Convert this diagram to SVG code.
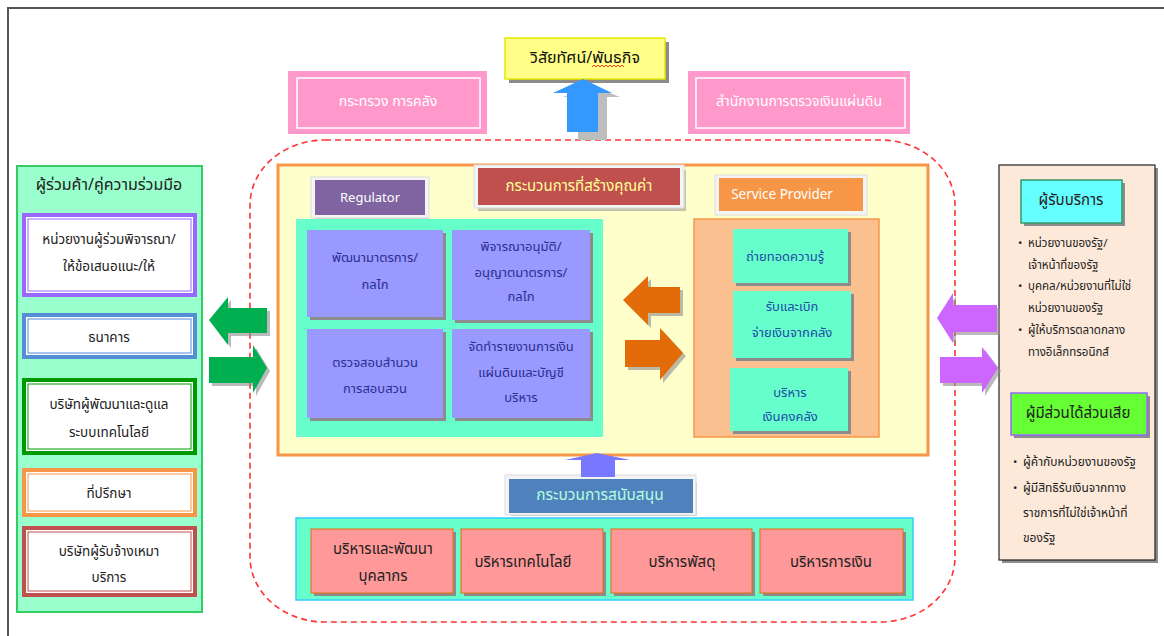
<svg xmlns="http://www.w3.org/2000/svg" width="1164" height="636" viewBox="0 0 1164 636">
  <defs>
    <style>
      text { font-family: "Noto Sans Thai", "Noto Sans", "DejaVu Sans", sans-serif; text-anchor: middle; dominant-baseline: middle; }
      .t15 { font-size: 15px; }
      .t14 { font-size: 14px; }
      .t13 { font-size: 13px; }
      .t12 { font-size: 12px; }
      .part { font-size: 13.5px; fill: #222; }
      .dark { fill: #222; }
      .navy { fill: #2b2f8f; }
      .blue { fill: #1f4aa8; }
      .shadow { fill: #8c8c8c; }
      .frame { fill: #f4f4f4; stroke: #dcdcdc; stroke-width: 1; }
      .lav { fill: #9999ff; }
      .aqua { fill: #66ffcc; }
      .rose { fill: #ff9999; stroke: #e46c0a; stroke-width: 1; }
      .pink { fill: #ff99cc; }
      .bul { text-anchor: start; font-size: 11.5px; fill: #222; }
    </style>
  </defs>

  <!-- page frame -->
  <rect x="0" y="0" width="1164" height="636" fill="#ffffff"/>
  <path d="M8,660 V8 H1180" fill="none" stroke="#555" stroke-width="2"/>

  <!-- dashed organisation boundary -->
  <rect x="250" y="140" width="705" height="482" rx="75" ry="65" fill="none" stroke="#ff3333" stroke-width="1.6" stroke-dasharray="6,4"/>

  <!-- vision / mission -->
  <g id="vision">
    <rect x="509" y="42" width="160" height="41" fill="#8c8c8c"/>
    <rect x="505" y="38" width="160" height="41" fill="#ffff88" stroke="#e8e800" stroke-width="1.5"/>
    <text x="585" y="59" style="font-size:16px" fill="#111">วิสัยทัศน์/พันธกิจ</text>
    <path d="M592,67 l2,-2 2,2 2,-2 2,2 2,-2 2,2 2,-2 2,2 2,-2 2,2 2,-2 2,2 2,-2 2,2 2,-2 2,2" fill="none" stroke="#ff2222" stroke-width="0.9"/>
  </g>

  <!-- ministry of finance -->
  <g id="mof">
    <rect x="288" y="71" width="199" height="63" class="pink"/>
    <rect x="297" y="78" width="183" height="50" fill="none" stroke="#ffffff" stroke-width="1.5"/>
    <text x="388" y="102" class="t14" fill="#ffffff">กระทรวง การคลัง</text>
  </g>

  <!-- state audit office -->
  <g id="sao">
    <rect x="688" y="71" width="222" height="63" class="pink"/>
    <rect x="696" y="78" width="209" height="50" fill="none" stroke="#ffffff" stroke-width="1.5"/>
    <text x="799" y="102" class="t14" fill="#ffffff">สำนักงานการตรวจเงินแผ่นดิน</text>
  </g>

  <!-- value creation process -->
  <g id="value-chain">
    <rect x="278" y="165" width="650" height="290" fill="#ffffcc" stroke="#f79646" stroke-width="3"/>
  </g>

  <g id="value-header">
    <rect x="478" y="170" width="208" height="41" class="shadow" opacity="0.5"/>
    <rect x="474" y="165" width="210" height="43" class="frame"/>
    <rect x="478" y="168" width="202" height="37" fill="#c0504d"/>
    <text x="579" y="187" class="t15" fill="#ffff99">กระบวนการที่สร้างคุณค่า</text>
  </g>

  <g id="regulator">
    <rect x="315" y="184" width="114" height="36" class="shadow" opacity="0.4"/>
    <rect x="311" y="177" width="118" height="41" class="frame"/>
    <rect x="315" y="180" width="110" height="35" fill="#8064a2"/>
    <text x="370" y="198" class="t13" fill="#ffffff">Regulator</text>
  </g>

  <g id="regulator-panel">
    <rect x="296" y="219" width="307" height="218" class="aqua"/>
  </g>

  <g id="reg-1">
    <rect x="310" y="233" width="136" height="87" class="shadow"/>
    <rect x="307" y="230" width="136" height="87" class="lav"/>
    <text x="375" y="258" class="t13 navy">พัฒนามาตรการ/</text>
    <text x="375" y="285" class="t13 navy">กลไก</text>
  </g>
  <g id="reg-2">
    <rect x="455" y="233" width="138" height="90" class="shadow"/>
    <rect x="452" y="230" width="138" height="90" class="lav"/>
    <text x="521" y="247" class="t13 navy">พิจารณาอนุมัติ/</text>
    <text x="521" y="273" class="t13 navy">อนุญาตมาตรการ/</text>
    <text x="521" y="297" class="t13 navy">กลไก</text>
  </g>
  <g id="reg-3">
    <rect x="310" y="332" width="136" height="89" class="shadow"/>
    <rect x="307" y="329" width="136" height="89" class="lav"/>
    <text x="375" y="363" class="t13 navy">ตรวจสอบสำนวน</text>
    <text x="375" y="389" class="t13 navy">การสอบสวน</text>
  </g>
  <g id="reg-4">
    <rect x="455" y="332" width="138" height="89" class="shadow"/>
    <rect x="452" y="329" width="138" height="89" class="lav"/>
    <text x="521" y="347" class="t13 navy">จัดทำรายงานการเงิน</text>
    <text x="521" y="373" class="t13 navy">แผ่นดินและบัญชี</text>
    <text x="521" y="398" class="t13 navy">บริหาร</text>
  </g>

  <g id="service-provider">
    <rect x="719" y="182" width="148" height="33" class="shadow" opacity="0.4"/>
    <rect x="715" y="175" width="152" height="40" class="frame"/>
    <rect x="719" y="178" width="144" height="33" fill="#f79646"/>
    <text x="782" y="195" style="font-size:13.5px" fill="#ffffff">Service Provider</text>
  </g>

  <g id="service-panel">
    <rect x="694" y="219" width="185" height="218" fill="#fac090" stroke="#f79646" stroke-width="1.5"/>
  </g>

  <g id="svc-1">
    <rect x="736" y="232" width="115" height="54" class="shadow"/>
    <rect x="733" y="229" width="115" height="54" class="aqua"/>
    <text x="785" y="257" class="t13 blue">ถ่ายทอดความรู้</text>
  </g>
  <g id="svc-2">
    <rect x="736" y="294" width="118" height="67" class="shadow"/>
    <rect x="733" y="291" width="118" height="67" class="aqua"/>
    <text x="792" y="307" class="t13 blue">รับและเบิก</text>
    <text x="792" y="333" class="t13 blue">จ่ายเงินจากคลัง</text>
  </g>
  <g id="svc-3">
    <rect x="733" y="371" width="118" height="63" class="shadow"/>
    <rect x="730" y="368" width="118" height="63" class="aqua"/>
    <text x="790" y="393" class="t13 blue">บริหาร</text>
    <text x="790" y="417" class="t13 blue">เงินคงคลัง</text>
  </g>

  <!-- support process -->
  <g id="support-header">
    <rect x="511" y="482" width="186" height="34" class="shadow" opacity="0.4"/>
    <rect x="505" y="475" width="191" height="40" class="frame"/>
    <rect x="509" y="479" width="184" height="34" fill="#4f81bd"/>
    <text x="600" y="496" style="font-size:15.5px" fill="#b3ffdd">กระบวนการสนับสนุน</text>
  </g>

  <g id="support-panel">
    <rect x="296" y="518" width="617" height="82" class="aqua" stroke="#33ccff" stroke-width="1.5"/>
  </g>
  <g id="sup-1">
    <rect x="314" y="532" width="142" height="64" class="shadow"/>
    <rect x="311" y="529" width="142" height="64" class="rose"/>
    <text x="383" y="550" class="t15 dark">บริหารและพัฒนา</text>
    <text x="383" y="577" class="t15 dark">บุคลากร</text>
  </g>
  <g id="sup-2">
    <rect x="464" y="532" width="142" height="64" class="shadow"/>
    <rect x="461" y="529" width="142" height="64" class="rose"/>
    <text x="523" y="563" class="t15 dark">บริหารเทคโนโลยี</text>
  </g>
  <g id="sup-3">
    <rect x="614" y="532" width="141" height="64" class="shadow"/>
    <rect x="611" y="529" width="141" height="64" class="rose"/>
    <text x="682" y="563" class="t15 dark">บริหารพัสดุ</text>
  </g>
  <g id="sup-4">
    <rect x="763" y="532" width="143" height="64" class="shadow"/>
    <rect x="760" y="529" width="143" height="64" class="rose"/>
    <text x="831" y="563" class="t15 dark">บริหารการเงิน</text>
  </g>

  <!-- partners -->
  <g id="partners">
    <rect x="17" y="166" width="185" height="446" fill="#99ffcc" stroke="#33cc66" stroke-width="2"/>
    <text x="109" y="186" style="font-size:16px" class="dark">ผู้ร่วมค้า/คู่ความร่วมมือ</text>
  </g>
  <g id="partner-1">
    <rect x="24" y="215" width="171" height="80" fill="#ffffff" stroke="#9966ff" stroke-width="4"/>
    <rect x="28" y="219" width="163" height="72" fill="none" stroke="#9966ff" stroke-width="1"/>
    <text x="109" y="240" class="part">หน่วยงานผู้ร่วมพิจารณา/</text>
    <text x="109" y="267" class="part">ให้ข้อเสนอแนะ/ให้</text>
  </g>
  <g id="partner-2">
    <rect x="24" y="315" width="171" height="42" fill="#ffffff" stroke="#558ed5" stroke-width="4"/>
    <rect x="28" y="319" width="163" height="34" fill="none" stroke="#558ed5" stroke-width="1"/>
    <text x="109" y="338" class="part">ธนาคาร</text>
  </g>
  <g id="partner-3">
    <rect x="24" y="380" width="171" height="73" fill="#ffffff" stroke="#009900" stroke-width="4"/>
    <rect x="28" y="384" width="163" height="65" fill="none" stroke="#009900" stroke-width="1"/>
    <text x="109" y="405" class="part">บริษัทผู้พัฒนาและดูแล</text>
    <text x="109" y="433" class="part">ระบบเทคโนโลยี</text>
  </g>
  <g id="partner-4">
    <rect x="24" y="470" width="171" height="45" fill="#ffffff" stroke="#f79646" stroke-width="4"/>
    <rect x="28" y="474" width="163" height="37" fill="none" stroke="#f79646" stroke-width="1"/>
    <text x="109" y="494" class="part">ที่ปรึกษา</text>
  </g>
  <g id="partner-5">
    <rect x="24" y="528" width="171" height="67" fill="#ffffff" stroke="#c0504d" stroke-width="4"/>
    <rect x="28" y="532" width="163" height="59" fill="none" stroke="#c0504d" stroke-width="1"/>
    <text x="109" y="552" class="part">บริษัทผู้รับจ้างเหมา</text>
    <text x="109" y="578" class="part">บริการ</text>
  </g>

  <!-- customers and stakeholders -->
  <g id="customers">
    <rect x="1002" y="168" width="156" height="395" fill="#8c8c8c"/>
    <rect x="999" y="165" width="156" height="395" fill="#fde9d9" stroke="#222" stroke-width="1.2"/>
  </g>
  <g id="service-users">
    <rect x="1024" y="183" width="101" height="43" class="shadow"/>
    <rect x="1021" y="180" width="101" height="43" fill="#66ffff" stroke="#339966" stroke-width="1.5"/>
    <text x="1071" y="201" class="t15 dark">ผู้รับบริการ</text>
    <text x="1018" y="244" class="bul">•</text><text x="1028" y="244" class="bul">หน่วยงานของรัฐ/</text>
    <text x="1028" y="266" class="bul">เจ้าหน้าที่ของรัฐ</text>
    <text x="1018" y="287" class="bul">•</text><text x="1028" y="287" class="bul">บุคคล/หน่วยงานที่ไม่ใช่</text>
    <text x="1028" y="309" class="bul">หน่วยงานของรัฐ</text>
    <text x="1018" y="331" class="bul">•</text><text x="1028" y="331" class="bul">ผู้ให้บริการตลาดกลาง</text>
    <text x="1028" y="353" class="bul">ทางอิเล็กทรอนิกส์</text>
  </g>
  <g id="stakeholders">
    <rect x="1014" y="396" width="136" height="42" class="shadow"/>
    <rect x="1011" y="393" width="136" height="42" fill="#66ff33" stroke="#9966ff" stroke-width="1.5"/>
    <text x="1078" y="414" class="t15 dark">ผู้มีส่วนได้ส่วนเสีย</text>
    <text x="1013" y="463" class="bul">•</text><text x="1023" y="463" class="bul" style="font-size:12px">ผู้ค้ากับหน่วยงานของรัฐ</text>
    <text x="1013" y="489" class="bul">•</text><text x="1023" y="489" class="bul" style="font-size:12px">ผู้มีสิทธิรับเงินจากทาง</text>
    <text x="1023" y="514" class="bul" style="font-size:12px">ราชการที่ไม่ใช่เจ้าหน้าที่</text>
    <text x="1023" y="539" class="bul" style="font-size:12px">ของรัฐ</text>
  </g>

  <!-- connectors: block arrows -->
  <g id="connectors">
    <!-- up to vision -->
    <path d="M578,140 V97 H563 L592,86 L620,97 H607 V140 Z" fill="#bdbdbd"/>
    <path d="M567,132 V93 H553 L583,79 L612,93 H598 V132 Z" fill="#3399ff"/>
    <!-- support up to value chain -->
    <path d="M581,477 V460 H565 L597,453 L630,460 H615 V477 Z" fill="#7777ff"/>
    <!-- partners exchange -->
    <path d="M270,311 V336 H231 V348 L212,323 L231,300 V311 Z" fill="#8c8c8c" opacity="0.6"/>
    <path d="M267,308 V333 H228 V345 L209,320 L228,297 V308 Z" fill="#00b050"/>
    <path d="M212,360 H256 V348 L270,371 L256,396 V386 H212 Z" fill="#8c8c8c" opacity="0.6"/>
    <path d="M209,357 H253 V345 L267,368 L253,393 V383 H209 Z" fill="#00b050"/>
    <!-- regulator / service provider exchange -->
    <path d="M683,290 V316 H651 V328 L626,303 L651,279 V290 Z" fill="#8c8c8c" opacity="0.6"/>
    <path d="M680,287 V313 H648 V325 L623,300 L648,276 V287 Z" fill="#e36c09"/>
    <path d="M628,343 H663 V331 L686,356 L663,383 V370 H628 Z" fill="#8c8c8c" opacity="0.6"/>
    <path d="M625,340 H660 V328 L683,353 L660,380 V367 H625 Z" fill="#e36c09"/>
    <!-- customers exchange -->
    <path d="M1000,308 V335 H956 V346 L940,321 L956,296 V308 Z" fill="#8c8c8c" opacity="0.6"/>
    <path d="M997,305 V332 H953 V343 L937,318 L953,293 V305 Z" fill="#cc66ff"/>
    <path d="M943,360 H985 V350 L1001,371 L985,396 V386 H943 Z" fill="#8c8c8c" opacity="0.6"/>
    <path d="M940,357 H982 V347 L998,368 L982,393 V383 H940 Z" fill="#cc66ff"/>
  </g>
</svg>
